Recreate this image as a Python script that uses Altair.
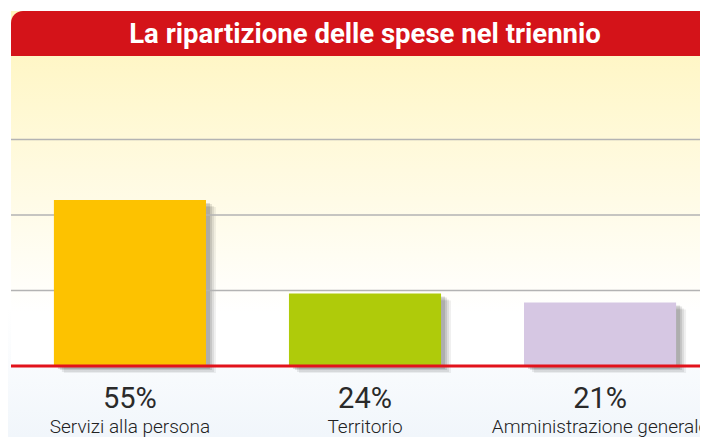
import altair as alt
import pandas as pd

# ---- data ----
categories = ["Servizi alla persona", "Territorio", "Amministrazione generale"]
values = [55, 24, 21]
bar_colors = ["#FDC200", "#AFCB0A", "#D6C7E3"]
grid_values = [25, 50, 75]
title_text = "La ripartizione delle spese nel triennio"

df = pd.DataFrame({
    "cat": categories,
    "value": values,
    "label": [f"{v}%" for v in values],
})
grid_df = pd.DataFrame({"g": grid_values})
one = alt.Data(values=[{"d": 0}])

FONT = "Roboto"
W, H = 692, 429

x_enc = alt.X("cat:N", sort=categories, axis=None,
              scale=alt.Scale(domain=categories, range=[9, 705],
                              paddingInner=0.353, paddingOuter=0.157))
y_scale = alt.Scale(domain=[0, 100], range=[358, 56])
color_enc = alt.Color("cat:N", scale=alt.Scale(domain=categories, range=bar_colors), legend=None)

# ---- decorations ----
bg_top = alt.Chart(one).mark_rect(
    fill=alt.Gradient(gradient="linear", x1=0, x2=0, y1=0, y2=1,
                      stops=[alt.GradientStop(color="#FFF5BC", offset=0),
                             alt.GradientStop(color="#FFFAE0", offset=0.45),
                             alt.GradientStop(color="#FFFFFF", offset=0.85),
                             alt.GradientStop(color="#FFFFFF", offset=1)])
).encode(x=alt.value(3), x2=alt.value(W), y=alt.value(3), y2=alt.value(358))

bg_bottom = alt.Chart(one).mark_rect(
    fill=alt.Gradient(gradient="linear", x1=0, x2=0, y1=0, y2=1,
                      stops=[alt.GradientStop(color="#FFFFFF", offset=0),
                             alt.GradientStop(color="#F1F6FB", offset=1)])
).encode(x=alt.value(0), x2=alt.value(W), y=alt.value(300), y2=alt.value(H))

title_bar = alt.Chart(one).mark_rect(fill="#D41319", cornerRadiusTopLeft=12).encode(
    x=alt.value(3), x2=alt.value(W), y=alt.value(3), y2=alt.value(48))

title = alt.Chart(one).mark_text(
    text=title_text, font=FONT, fontSize=27.5, fontWeight="bold", color="#FFFFFF",
    align="center", baseline="alphabetic"
).encode(x=alt.value(357), y=alt.value(35))

grid = alt.Chart(grid_df).mark_rule(color="#B3B3B3", strokeWidth=1.5).encode(
    y=alt.Y("g:Q", scale=y_scale, axis=None),
    x=alt.value(3), x2=alt.value(W))

# ---- bars with soft shadow ----
shadows = []
for dx, dy, op in [(10, 7, 0.06), (8, 6, 0.08), (6, 4, 0.1), (4, 3, 0.12)]:
    shadows.append(
        alt.Chart(df).mark_bar(color="#000000", opacity=op, xOffset=dx, yOffset=dy).encode(
            x=x_enc, y=alt.Y("value:Q", scale=y_scale, axis=None))
    )

bars = alt.Chart(df).mark_bar().encode(
    x=x_enc, y=alt.Y("value:Q", scale=y_scale, axis=None), color=color_enc)

baseline = alt.Chart(one).mark_rule(color="#E2121B", strokeWidth=3).encode(
    y=alt.Y(datum=0, scale=y_scale, axis=None), x=alt.value(3), x2=alt.value(W))

pct = alt.Chart(df).mark_text(font=FONT, fontSize=29, fontWeight=400, color="#2A2A2A",
                              align="center", baseline="alphabetic").encode(
    x=x_enc, y=alt.value(400), text="label:N")

cat_lbl = alt.Chart(df).mark_text(font=FONT, fontSize=19, fontWeight=300, color="#222222",
                                  align="center", baseline="alphabetic").encode(
    x=x_enc, y=alt.value(425), text="cat:N")

chart = alt.layer(
    bg_bottom, bg_top, title_bar, title, *shadows, grid, bars, baseline, pct, cat_lbl
).properties(
    width=W, height=H, padding=0, autosize=alt.AutoSizeParams(type="none"),
    background="#FFFFFF"
).configure_view(stroke=None)

chart.save("out.html", embed_options={"renderer": "svg", "actions": False})
